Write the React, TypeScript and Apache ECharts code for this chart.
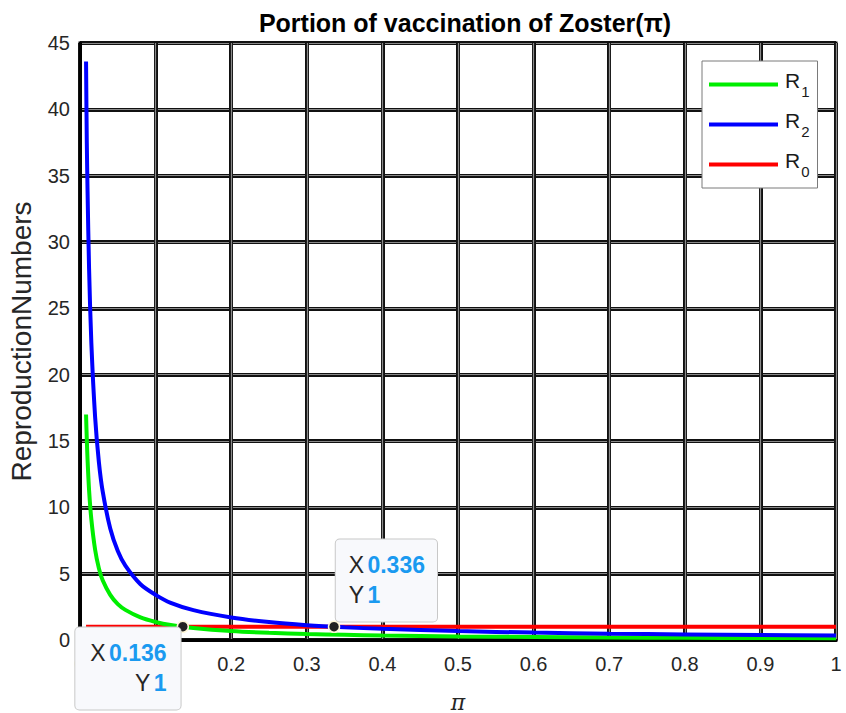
import React, { useEffect, useRef } from "react";
import * as echarts from "echarts";

const xs = [0.008, 0.009, 0.01, 0.012, 0.015, 0.02, 0.025, 0.03, 0.04, 0.05, 0.06, 0.08, 0.1, 0.12, 0.15, 0.2, 0.25, 0.3, 0.35, 0.4, 0.5, 0.6, 0.7, 0.8, 0.9, 1.0];
const r2Values = [43.6, 37.5, 33.8, 28, 22.4, 16.8, 13.4, 11.2, 8.4, 6.7, 5.6, 4.2, 3.4, 2.8, 2.25, 1.7, 1.35, 1.12, 0.96, 0.84, 0.67, 0.56, 0.48, 0.42, 0.37, 0.34];
const r1Values = [17.0, 15.1, 13.6, 11.3, 9.1, 6.8, 5.4, 4.5, 3.4, 2.7, 2.27, 1.7, 1.36, 1.13, 0.91, 0.68, 0.54, 0.45, 0.39, 0.34, 0.27, 0.23, 0.19, 0.17, 0.15, 0.14];
const r0X = [0.008, 1.0];
const r0Y = [1, 1];
const tipX = [0.136, 0.336];
const tipY = [1, 1];
const seriesNames = ["R1", "R2", "R0"];

const FONT = "Liberation Sans";

export default function App() {
  const ref = useRef<HTMLDivElement>(null);
  useEffect(() => {
    if (!ref.current) return;
    const chart = echarts.init(ref.current, null, { renderer: "svg" });
    const zip = (a: number[], b: number[]) => a.map((v, i) => [v, b[i]]);
    const axisCommon = {
      min: 0,
      axisTick: { show: false },
    };
    const tipLabel = (i: number) => ({
      show: true,
      formatter: `{k|X} {v|${tipX[i]}}\n{k|Y} {v|${tipY[i]}}`,
      backgroundColor: "#f8f9fc",
      borderColor: "#c8c8c8",
      borderWidth: 1,
      borderRadius: 4,
      opacity: 1,
      padding: i === 0 ? [11, 14, 11, 15] : [11, 12, 11, 13],
      align: i === 0 ? "right" : "left",
      verticalAlign: i === 0 ? "top" : "bottom",
      position: i === 0 ? [4, 7] : [8, 1],
      lineHeight: 30,
      rich: {
        k: { fontFamily: FONT, fontSize: 23, color: "#262626", lineHeight: 30 },
        v: { fontFamily: FONT, fontSize: 23, color: "#1a9af0", fontWeight: "bold", lineHeight: 30 },
      },
    });
    chart.setOption({
      animation: false,
      backgroundColor: "#ffffff",
      title: {
        text: "Portion of vaccination of Zoster(π)",
        left: 460,
        textAlign: "center",
        top: 5,
        textStyle: { fontFamily: FONT, fontSize: 25, fontWeight: "bold", color: "#000" },
      },
      grid: {
        left: 80,
        right: 10,
        top: 43,
        bottom: 73,
        show: true,
        borderColor: "#000",
        borderWidth: 3,
        outerBoundsMode: "none",
      },
      legend: {
        data: seriesNames,
        orient: "vertical",
        left: 702,
        top: 61,
        padding: [9, 8, 9, 7],
        itemGap: 11,
        itemWidth: 69,
        itemHeight: 4,
        icon: "rect",
        backgroundColor: "#ffffff",
        borderColor: "#7a7a7a",
        borderWidth: 1,
        formatter: (name: string) => `{r|R}{s|${name.slice(1)}}`,
        textStyle: {
          rich: {
            r: { fontFamily: FONT, fontSize: 21, color: "#1a1a1a", verticalAlign: "top", padding: [0, 0, 8, 2] },
            s: { fontFamily: FONT, fontSize: 15, color: "#1a1a1a", verticalAlign: "top", padding: [14, 0, 0, 1] },
          },
        },
      },
      xAxis: [
        {
          ...axisCommon,
          type: "value",
          max: 1,
          interval: 0.1,
          name: "π",
          nameLocation: "middle",
          nameGap: 51,
          nameTextStyle: { fontFamily: "DejaVu Serif", fontStyle: "italic", fontSize: 22, color: "#262626" },
          axisLine: { show: true, onZero: false, lineStyle: { color: "#000", width: 3 } },
          axisLabel: { fontFamily: FONT, fontSize: 20, color: "#262626", margin: 14 },
          splitLine: { show: true, lineStyle: { color: "#111", width: 4 } },
        },
        {
          ...axisCommon,
          type: "value",
          max: 1,
          interval: 0.1,
          position: "top",
          axisLine: { show: false },
          axisLabel: { show: false },
          splitLine: { show: true, lineStyle: { color: "#8a8a8a", width: 1.2 } },
        },
      ],
      yAxis: [
        {
          ...axisCommon,
          type: "value",
          max: 45,
          interval: 5,
          name: "ReproductionNumbers",
          nameLocation: "middle",
          nameGap: 45,
          nameTextStyle: { fontFamily: FONT, fontSize: 28, color: "#262626" },
          axisLine: { show: true, onZero: false, lineStyle: { color: "#000", width: 3 } },
          axisLabel: { fontFamily: FONT, fontSize: 20, color: "#262626", margin: 10 },
          splitLine: { show: true, lineStyle: { color: "#111", width: 4 } },
        },
        {
          ...axisCommon,
          type: "value",
          max: 45,
          interval: 5,
          position: "right",
          axisLine: { show: false },
          axisLabel: { show: false },
          splitLine: { show: true, lineStyle: { color: "#8a8a8a", width: 1.2 } },
        },
      ],
      series: [
        {
          name: "R0",
          type: "line",
          data: zip(r0X, r0Y),
          showSymbol: false,
          lineStyle: { color: "#ff0000", width: 4 },
          itemStyle: { color: "#ff0000" },
          z: 3,
        },
        {
          name: "R1",
          type: "line",
          data: zip(xs, r1Values),
          showSymbol: false,
          smooth: 0.3,
          lineStyle: { color: "#00ee00", width: 4 },
          itemStyle: { color: "#00ee00" },
          z: 4,
        },
        {
          name: "R2",
          type: "line",
          data: zip(xs, r2Values),
          showSymbol: false,
          smooth: 0.3,
          lineStyle: { color: "#0000ff", width: 4 },
          itemStyle: { color: "#0000ff" },
          z: 5,
        },
        {
          name: "tips",
          type: "scatter",
          data: tipX.map((x, i) => ({
            value: [x, tipY[i]],
            label: tipLabel(i),
          })),
          symbolSize: 11,
          itemStyle: { color: "#222", borderColor: "#fff7d8", borderWidth: 1.5, opacity: 1 },
          z: 10,
        },
      ],
    });
    return () => chart.dispose();
  }, []);
  return (
    <div
      ref={ref}
      style={{ position: "absolute", left: 0, top: 0, width: 846, height: 713 }}
    />
  );
}
